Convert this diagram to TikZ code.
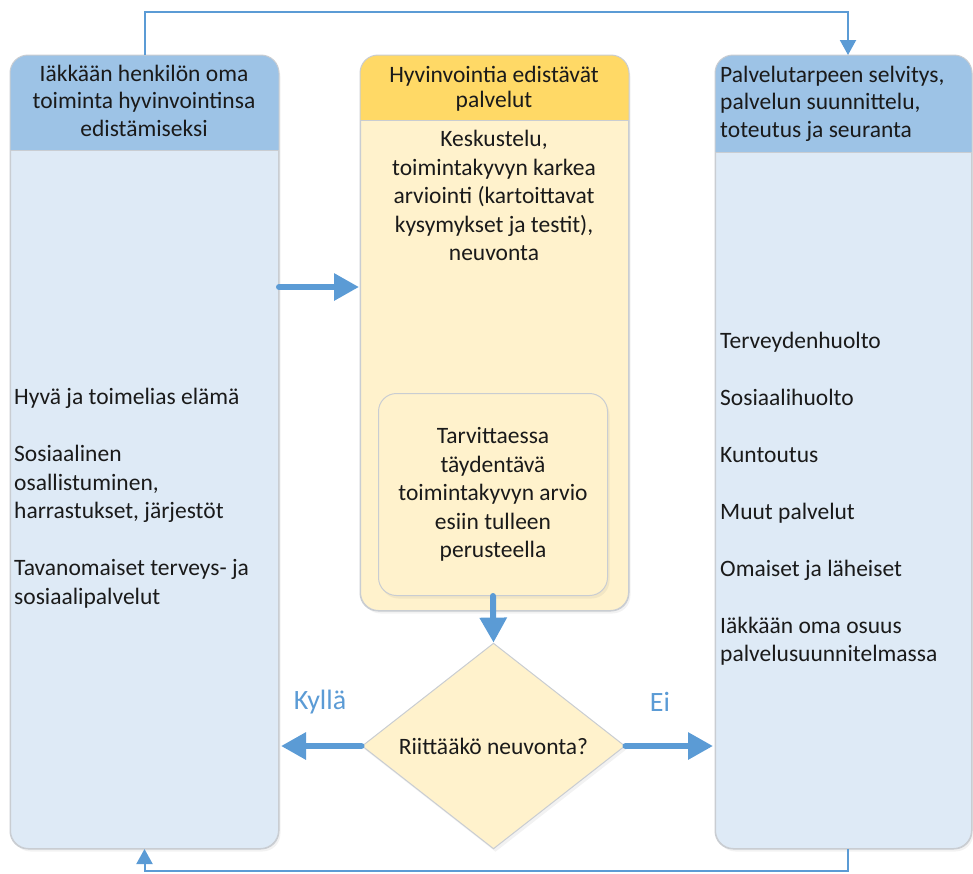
\documentclass[tikz,border=0pt]{standalone}
\usepackage{fontspec}
\setmainfont{Carlito}
\usetikzlibrary{arrows.meta,shapes.geometric,shadows}
\definecolor{hdrblue}{HTML}{9DC3E6}
\definecolor{bodyblue}{HTML}{DEEAF6}
\definecolor{hdryellow}{HTML}{FFD966}
\definecolor{bodyyellow}{HTML}{FFF2CC}
\definecolor{bordergray}{HTML}{C9CDD2}
\definecolor{arrowblue}{HTML}{5B9BD5}
\definecolor{txtcol}{HTML}{1A1A1A}
\begin{document}
\begin{tikzpicture}[x=1pt,y=-1pt,
  panel/.style={draw=bordergray, line width=1pt, rounded corners=18pt, inner sep=0pt,
    anchor=north west, drop shadow={opacity=0.10, shadow xshift=2pt, shadow yshift=-3pt}},
  txt/.style={inner sep=0pt, text=txtcol, font=\fontsize{23.5}{28.5}\selectfont},
  bigarrow/.style={draw=arrowblue, line width=6pt, line cap=round, -{Triangle[width=26pt,length=25pt]}},
  thinarrow/.style={draw=arrowblue, line width=2pt, -{Triangle[width=16pt,length=15pt]}},
  lbl/.style={inner sep=0pt, text=arrowblue, font=\fontsize{28}{32}\selectfont}]
\useasboundingbox (0,0) rectangle (973,873);

% panels
\node[panel, fill=bodyblue, minimum width=268pt, minimum height=793pt] (L) at (10,55) {};
\node[panel, fill=bodyyellow, minimum width=268pt, minimum height=555pt] (M) at (360,55) {};
\node[panel, fill=bodyblue, minimum width=256pt, minimum height=793pt] (R) at (715,55) {};

% headers
\begin{scope}
  \clip[rounded corners=18pt] (L.north west) rectangle (L.south east);
  \fill[hdrblue] (L.north west) rectangle ([yshift=-95pt]L.north east);
\end{scope}
\begin{scope}
  \clip[rounded corners=18pt] (M.north west) rectangle (M.south east);
  \fill[hdryellow] (M.north west) rectangle ([yshift=-65pt]M.north east);
\end{scope}
\begin{scope}
  \clip[rounded corners=18pt] (R.north west) rectangle (R.south east);
  \fill[hdrblue] (R.north west) rectangle ([yshift=-97pt]R.north east);
\end{scope}
\draw[bordergray, line width=1pt] ([yshift=-95pt]L.north west) -- ([yshift=-95pt]L.north east);
\draw[bordergray, line width=1pt] ([yshift=-65pt]M.north west) -- ([yshift=-65pt]M.north east);
\draw[bordergray, line width=1pt] ([yshift=-97pt]R.north west) -- ([yshift=-97pt]R.north east);
\draw[bordergray, line width=1pt, rounded corners=18pt] (L.north west) rectangle (L.south east);
\draw[bordergray, line width=1pt, rounded corners=18pt] (M.north west) rectangle (M.south east);
\draw[bordergray, line width=1pt, rounded corners=18pt] (R.north west) rectangle (R.south east);

% inner box
\node[panel, fill=bodyyellow, minimum width=229pt, minimum height=202pt] (I) at (378,393) {};
\node[txt, align=center] (It) at (I.center) {Tarvittaessa\\täydentävä\\toimintakyvyn arvio\\esiin tulleen\\perusteella};

% texts
\node[txt, align=center, font=\fontsize{23.5}{27.5}\selectfont] (Lh) at (144,100.5)
  {Iäkkään henkilön oma\\toiminta hyvinvointinsa\\edistämiseksi};
\node[txt, align=center, font=\fontsize{23.5}{25}\selectfont] (Mh) at (494,88.5)
  {Hyvinvointia edistävät\\palvelut};
\node[txt, align=center] (Mb) at (494,195.5)
  {Keskustelu,\\toimintakyvyn karkea\\arviointi (kartoittavat\\kysymykset ja testit),\\neuvonta};
\node[txt, align=left, anchor=west, font=\fontsize{23.5}{27.5}\selectfont] (Rh) at (720,103.5)
  {Palvelutarpeen selvitys,\\palvelun suunnittelu,\\toteutus ja seuranta};
\node[txt, align=left, anchor=west] (Rb) at (720,498.5)
  {Terveydenhuolto\\[28.5pt]Sosiaalihuolto\\[28.5pt]Kuntoutus\\[28.5pt]Muut palvelut\\[28.5pt]Omaiset ja läheiset\\[28.5pt]Iäkkään oma osuus\\palvelusuunnitelmassa};
\node[txt, align=left, anchor=west] (Lb) at (14,498)
  {Hyvä ja toimelias elämä\\[28.5pt]Sosiaalinen\\osallistuminen,\\harrastukset, järjestöt\\[28.5pt]Tavanomaiset terveys- ja\\sosiaalipalvelut};

% decision
\node[diamond, draw=bordergray, line width=1pt, fill=bodyyellow, minimum width=263pt, minimum height=198pt,
  inner sep=0pt, text=txtcol, font=\fontsize{23.5}{28.5}\selectfont,
  drop shadow={opacity=0.10, shadow xshift=2pt, shadow yshift=-3pt}] (D) at (493.5,746) {Riittääkö neuvonta?};

% labels
\node[lbl] (ky) at (320,702) {Kyllä};
\node[lbl] (ei) at (660,702) {Ei};

% thick arrows
\coordinate (a1) at (0,287);
\draw[bigarrow] (L.east |- a1) -- ([xshift=-1pt]M.west |- a1);
\draw[bigarrow] (I.south) -- (D.north);
\draw[bigarrow] (D.west) -- ([xshift=2pt]L.east |- D.west);
\draw[bigarrow] (D.east) -- ([xshift=-2pt]R.west |- D.east);

% thin loop connectors
\coordinate (tl) at (144,12);
\coordinate (tr) at (848,12);
\coordinate (br) at (848,871);
\draw[thinarrow] (L.north) -- (L.north |- tl) -- (tr) -- (tr |- R.north);
\draw[thinarrow] (br |- R.south) -- (br) -- (L.south |- br) -- (L.south);
\end{tikzpicture}
\end{document}
